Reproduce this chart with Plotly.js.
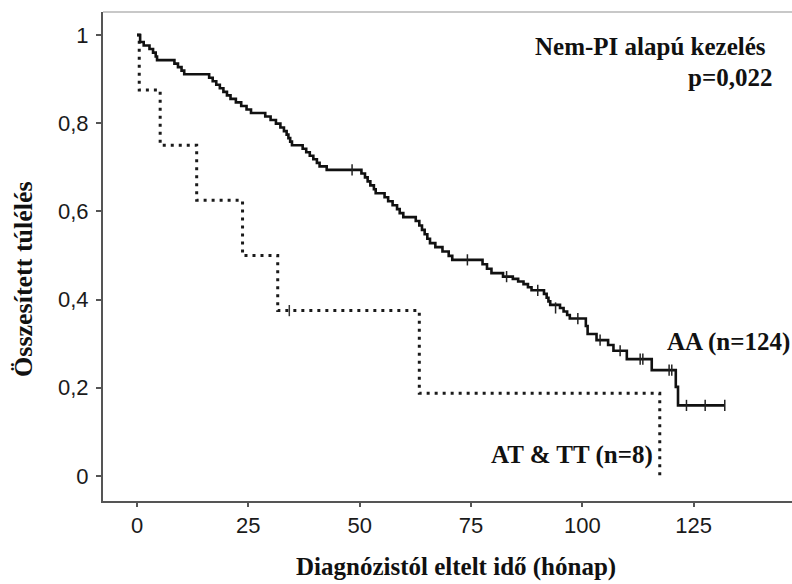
<!DOCTYPE html>
<html>
<head>
<meta charset="utf-8">
<script src="https://cdn.plot.ly/plotly-3.0.1.min.js"></script>
<style>html,body{margin:0;padding:0;background:#fff;}#chart{width:792px;height:584px;}</style>
</head>
<body>
<div id="chart"></div>
<script>
// AA (n=124) Kaplan-Meier step curve (months, survival)
const aaTime = [0, 0.7, 1.5, 2.8, 3.6, 4.2, 4.5, 8.4, 9.2, 10.0, 10.6,
  16.2, 17.0, 17.8, 18.6, 19.4, 20.2, 21.0, 22.2, 23.4, 24.6, 25.6,
  28.8, 30.0, 31.2, 32.2, 33.0, 33.6, 34.0, 34.4, 34.8,
  37.2, 38.0, 38.8, 39.6, 40.4, 41.0, 42.6,
  50.4, 51.2, 51.8, 52.4, 53.2, 53.6, 55.6, 56.4, 57.4, 58.4, 59.0, 59.8,
  62.6, 63.4, 64.0, 64.6, 65.2, 65.8, 67.0, 68.6, 70.0, 70.8,
  77.6, 78.6, 79.6, 82.2, 84.4, 85.6, 86.8, 87.8, 88.6, 91.4, 92.0, 92.4, 92.8,
  95.0, 95.8, 96.6, 97.2, 100.8, 101.2, 103.2, 105.8, 107.0, 110.0,
  115.6, 121.0, 121.5, 132.0];
const aaSurv = [1.000, 0.984, 0.976, 0.968, 0.960, 0.951, 0.943, 0.935, 0.927, 0.919, 0.911,
  0.903, 0.895, 0.887, 0.879, 0.871, 0.863, 0.855, 0.847, 0.839, 0.831, 0.823,
  0.815, 0.807, 0.799, 0.790, 0.782, 0.774, 0.766, 0.758, 0.750,
  0.742, 0.734, 0.726, 0.718, 0.710, 0.702, 0.694,
  0.686, 0.677, 0.668, 0.659, 0.650, 0.641, 0.632, 0.623, 0.614, 0.605, 0.596, 0.587,
  0.578, 0.568, 0.558, 0.548, 0.538, 0.528, 0.519, 0.509, 0.499, 0.490,
  0.480, 0.470, 0.460, 0.452, 0.447, 0.441, 0.435, 0.428, 0.421, 0.413, 0.404, 0.396, 0.388,
  0.381, 0.373, 0.365, 0.357, 0.340, 0.322, 0.308, 0.297, 0.284, 0.265,
  0.240, 0.202, 0.160, 0.160];
// AA censor marks
const aaCensTime = [48.3, 74.2, 83.0, 90.0, 94.0, 99.0, 104.0, 108.5, 113.0, 113.6, 119.5, 120.1, 123.4, 127.6, 132.0];
const aaCensSurv = [0.694, 0.490, 0.452, 0.421, 0.381, 0.357, 0.308, 0.284, 0.265, 0.265, 0.240, 0.240, 0.160, 0.160, 0.160];

// AT & TT (n=8)
const atTime = [0, 0.5, 5.2, 13.4, 23.7, 31.6, 63.4, 117.4];
const atSurv = [1.0, 0.875, 0.75, 0.625, 0.5, 0.375, 0.1875, 0.0];
const atCensTime = [34.2];
const atCensSurv = [0.375];

const yTickVals = [0, 0.2, 0.4, 0.6, 0.8, 1];
const yTickText = ['0', '0,2', '0,4', '0,6', '0,8', '1'];
const xTickVals = [0, 25, 50, 75, 100, 125];

const serif = 'Liberation Serif, Times New Roman, serif';
const sans = 'Liberation Sans, Arial, sans-serif';

const traces = [
  {x: atTime, y: atSurv, mode: 'lines', line: {shape: 'hv', color: '#1a1a1a', width: 3, dash: '3px,5px'}, hoverinfo: 'skip'},
  {x: atCensTime, y: atCensSurv, mode: 'markers', marker: {symbol: 'line-ns', size: 8, line: {width: 1.5, color: '#333'}}, hoverinfo: 'skip'},
  {x: aaTime, y: aaSurv, mode: 'lines', line: {shape: 'hv', color: '#111', width: 2.6}, hoverinfo: 'skip'},
  {x: aaCensTime, y: aaCensSurv, mode: 'markers', marker: {symbol: 'line-ns', size: 8, line: {width: 1.5, color: '#222'}}, hoverinfo: 'skip'}
];

const titleFont = {family: serif, size: 25, color: '#111', weight: 'bold'};

const layout = {
  width: 792, height: 584,
  margin: {l: 103, r: 0, t: 12, b: 83, pad: 0},
  paper_bgcolor: '#fff', plot_bgcolor: '#fff',
  showlegend: false,
  xaxis: {
    range: [-7.64, 147.1], tickvals: xTickVals, ticktext: xTickVals.map(String),
    showgrid: false, zeroline: false, showline: true, linecolor: '#555', linewidth: 2,
    ticks: 'outside', ticklen: 4, tickwidth: 2, tickcolor: '#555',
    tickfont: {family: sans, size: 22, color: '#1a1a1a'}
  },
  yaxis: {
    range: [-0.0567, 1.052], tickvals: yTickVals, ticktext: yTickText,
    showgrid: false, zeroline: false, showline: true, linecolor: '#555', linewidth: 2,
    ticks: 'outside', ticklen: 5, tickwidth: 2, tickcolor: '#555', ticklabelstandoff: 3,
    tickfont: {family: sans, size: 22, color: '#1a1a1a'}
  },
  shapes: [
    {type: 'line', xref: 'paper', yref: 'paper', x0: 0, x1: 1, y0: 1, y1: 1, line: {color: '#c8c8c8', width: 2}}
  ],
  annotations: [
    {text: 'Diagnózistól eltelt idő (hónap)', x: 0.513, y: -0.135, xref: 'paper', yref: 'paper', xanchor: 'center', yanchor: 'middle', showarrow: false, font: titleFont},
    {text: 'Összesített túlélés', x: -0.1147, y: 0.454, xref: 'paper', yref: 'paper', xanchor: 'center', yanchor: 'middle', textangle: -90, showarrow: false, font: {family: serif, size: 26, color: '#111', weight: 'bold'}},
    {text: 'Nem-PI alapú kezelés', x: 141.7, y: 0.973, xref: 'x', yref: 'y', xanchor: 'right', yanchor: 'middle', showarrow: false, font: titleFont},
    {text: 'p=0,022', x: 143.0, y: 0.9025, xref: 'x', yref: 'y', xanchor: 'right', yanchor: 'middle', showarrow: false, font: titleFont},
    {text: 'AA (n=124)', x: 118.6, y: 0.304, xref: 'x', yref: 'y', xanchor: 'left', yanchor: 'middle', showarrow: false, font: titleFont},
    {text: 'AT &amp; TT (n=8)', x: 116.3, y: 0.048, xref: 'x', yref: 'y', xanchor: 'right', yanchor: 'middle', showarrow: false, font: titleFont}
  ]
};

Plotly.newPlot('chart', traces, layout, {staticPlot: true, displayModeBar: false});
</script>
</body>
</html>
